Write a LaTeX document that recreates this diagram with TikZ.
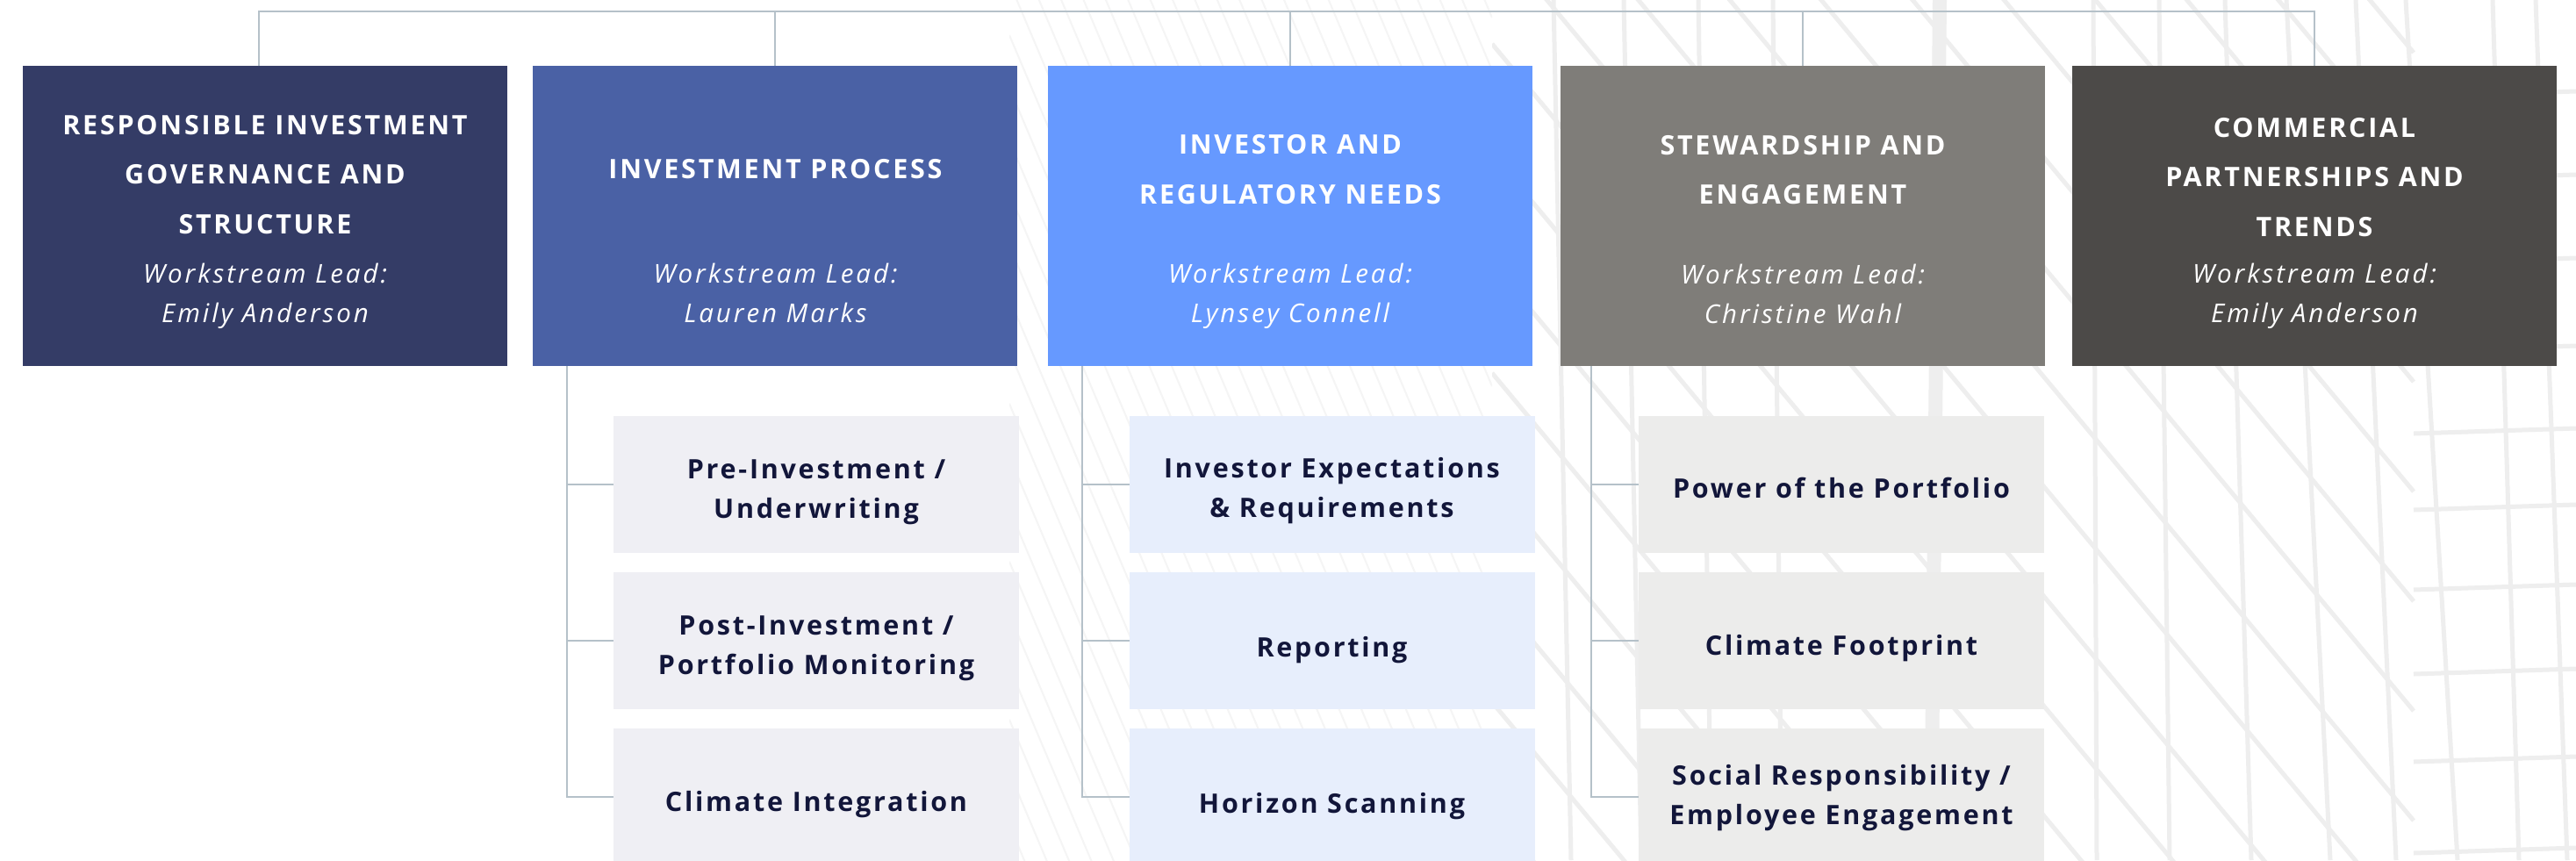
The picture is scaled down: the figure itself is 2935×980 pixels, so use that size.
\documentclass[tikz,border=0pt]{standalone}
\usepackage{fontspec}
\setmainfont{Open Sans}
\newfontfamily\hdfont[LetterSpace=9]{Open Sans}
\newfontfamily\ldfont[LetterSpace=10]{Open Sans}
\definecolor{hA}{HTML}{343C66}
\definecolor{hB}{HTML}{4A61A5}
\definecolor{hC}{HTML}{6699FF}
\definecolor{hD}{HTML}{7F7D79}
\definecolor{hE}{HTML}{4C4A48}
\definecolor{cB}{HTML}{EFEFF4}
\definecolor{cC}{HTML}{E7EEFC}
\definecolor{cD}{HTML}{ECECEB}
\definecolor{navy}{HTML}{12163A}
\definecolor{linec}{HTML}{B5C1C9}
\definecolor{bgl}{HTML}{EEEEEE}
\definecolor{bgf}{HTML}{F5F5F5}
\tikzset{
  hdr/.style={rectangle, inner sep=0pt, minimum width=552pt, minimum height=342pt, anchor=north west},
  sub/.style={rectangle, inner sep=0pt, minimum width=462pt, minimum height=156pt, anchor=north west},
  hdtext/.style={anchor=base, align=center, text=white, inner sep=0pt,
    font=\hdfont\bfseries\fontsize{30.5}{56.5}\selectfont},
  leadtext/.style={anchor=base, align=center, text=white, inner sep=0pt,
    font=\ldfont\itshape\fontsize{29.5}{44.5}\selectfont},
  subtext/.style={anchor=base, align=center, text=navy, inner sep=0pt,
    font=\hdfont\bfseries\fontsize{30.5}{45}\selectfont},
  conn/.style={draw=linec, line width=2.2pt},
  bgline/.style={draw=bgl, line width=5pt},
  bgthin/.style={draw=bgf, line width=2pt}
}
\begin{document}
\begin{tikzpicture}[x=1pt,y=-1pt]
\useasboundingbox (0,0) rectangle (2935,980);
\fill[white] (0,0) rectangle (2935,980);
% faint architectural background
\begin{scope}
\clip (1150,0) rectangle (1700,980);
\foreach \y in {-1400,-1340,...,1000} \draw[bgthin] (1150,\y) -- ++(550,1300);
\end{scope}
\begin{scope}
\clip (1700,0) rectangle (2935,980);
\foreach \y in {-1700,-1575,...,1000} \draw[bgline] (1700,\y) -- ++(1050,1260);
\foreach \xa/\xb in {1770/1790,1850/1870,1935/1950,2020/2030,2385/2389,2460/2472,2535/2565,2605/2655,2684/2730,2741/2800,2840/2870,2889/2925}
  \draw[bgline] (\xa,0) -- (\xb,980);
\draw[draw=bgl, line width=16pt] (2210,0) -- (2200,980);
\foreach \y in {110,205,300,400,494,581,672,768,868,972}
  \draw[bgline] (2750,\y) -- (2935,\y-6);
\end{scope}
% header boxes
\node[hdr, fill=hA] (h1) at (26,75) {};
\node[hdr, fill=hB] (h2) at (607,75) {};
\node[hdr, fill=hC] (h3) at (1194,75) {};
\node[hdr, fill=hD] (h4) at (1778,75) {};
\node[hdr, fill=hE] (h5) at (2361,75) {};
% top connector bar
\coordinate (top) at (0,13);
\coordinate (h1d) at ([xshift=-7pt]h1.north);
\draw[conn] (h1d) |- (h5.north |- top) -- (h5.north);
\foreach \n in {h2,h3,h4} \draw[conn] (\n.north) -- (\n.north |- top);
% sub boxes
\node[sub, fill=cB] (c21) at (699,474) {};
\node[sub, fill=cB] (c22) at (699,652) {};
\node[sub, fill=cB] (c23) at (699,830) {};
\node[sub, fill=cC] (c31) at (1287,474) {};
\node[sub, fill=cC] (c32) at (1287,652) {};
\node[sub, fill=cC] (c33) at (1287,830) {};
\node[sub, fill=cD] (c41) at (1867,474) {};
\node[sub, fill=cD] (c42) at (1867,652) {};
\node[sub, fill=cD] (c43) at (1867,830) {};
% branch connectors
\coordinate (b2) at ([xshift=39pt]h2.south west);
\coordinate (b3) at ([xshift=39pt]h3.south west);
\coordinate (b4) at ([xshift=35pt]h4.south west);
\foreach \b/\c in {b2/c2,b3/c3,b4/c4}{
  \draw[conn] (\b) |- (\c3.west);
  \draw[conn] (\b |- \c1.west) -- (\c1.west);
  \draw[conn] (\b |- \c2.west) -- (\c2.west);
}
% header texts (anchor base = baseline of last line)
\node[hdtext] (t1) at (302,266) {RESPONSIBLE INVESTMENT\\GOVERNANCE AND\\STRUCTURE};
\node[hdtext] (t2) at (883.5,203) {INVESTMENT PROCESS};
\node[hdtext] (t3) at (1470,232) {INVESTOR AND\\REGULATORY NEEDS};
\node[hdtext] (t4) at (2054,232.5) {STEWARDSHIP AND\\ENGAGEMENT};
\node[hdtext] (t5) at (2637,269) {COMMERCIAL\\PARTNERSHIPS AND\\TRENDS};
\node[leadtext] (l1) at (302,367) {Workstream Lead:\\Emily Anderson};
\node[leadtext] (l2) at (883.5,367) {Workstream Lead:\\Lauren Marks};
\node[leadtext] (l3) at (1470,367) {Workstream Lead:\\Lynsey Connell};
\node[leadtext] (l4) at (2054,368) {Workstream Lead:\\Christine Wahl};
\node[leadtext] (l5) at (2637,367) {Workstream Lead:\\Emily Anderson};
% sub texts
\node[subtext] (s21) at (930,590) {Pre-Investment /\\Underwriting};
\node[subtext] (s22) at (930,768) {Post-Investment /\\Portfolio Monitoring};
\node[subtext] (s23) at (930,924) {Climate Integration};
\node[subtext] (s31) at (1517.5,589) {Investor Expectations\\\& Requirements};
\node[subtext] (s32) at (1517.5,748) {Reporting};
\node[subtext] (s33) at (1517.5,926) {Horizon Scanning};
\node[subtext] (s41) at (2098,567) {Power of the Portfolio};
\node[subtext] (s42) at (2098,746) {Climate Footprint};
\node[subtext] (s43) at (2098,939) {Social Responsibility /\\Employee Engagement};
\end{tikzpicture}
\end{document}
